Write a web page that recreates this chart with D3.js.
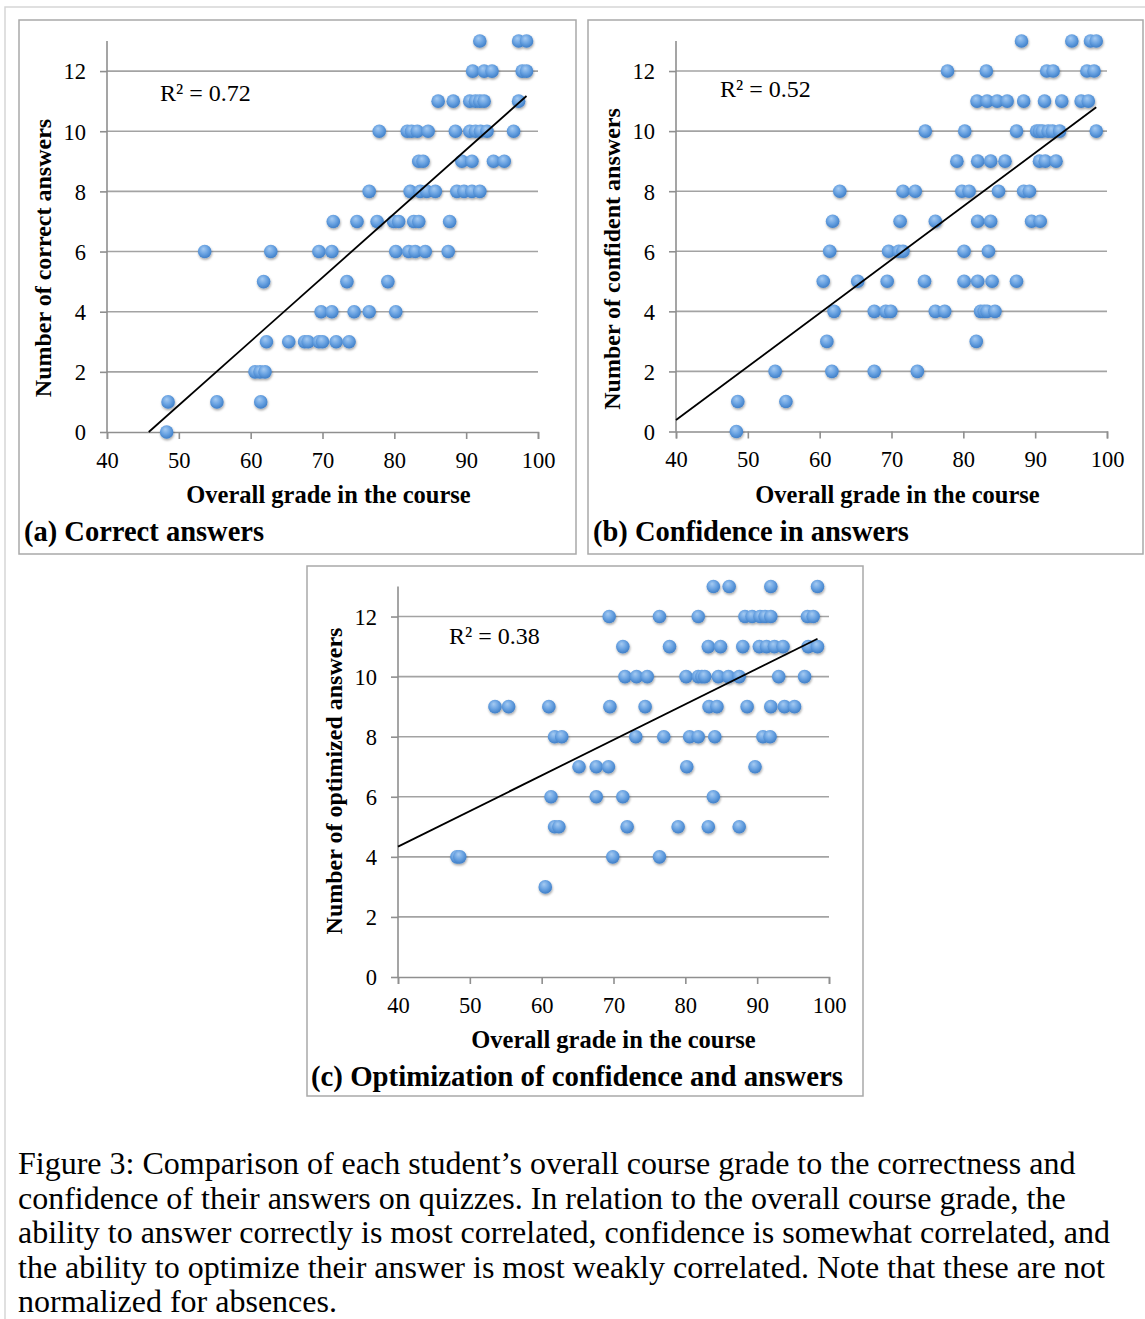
<!DOCTYPE html>
<html><head><meta charset="utf-8">
<script src="https://cdn.jsdelivr.net/npm/d3@7"></script>
<style>
body{margin:0;background:#fff}
svg{display:block}
text{font-family:"Liberation Serif","Times New Roman",serif;fill:#000}
</style>
</head><body>
<svg id="fig" width="1145" height="1319"></svg>
<script>
// ---------- DATA ----------
const xTicks = [40, 50, 60, 70, 80, 90, 100];
const yTicks = [0, 2, 4, 6, 8, 10, 12];
const xDomain = [40, 100];
const yDomain = [0, 13];

// Panel (a): overall grade vs number of correct answers
const gradesA = [
  91.9, 97.3, 98.4,
  90.9, 92.5, 93.6, 97.8, 98.4,
  86.1, 88.2, 90.5, 91.3, 91.9, 92.5, 97.3,
  77.9, 81.8, 82.4, 83.2, 84.7, 88.5, 90.5, 91.3, 92.0, 92.9, 96.6,
  83.4, 84.0, 89.4, 90.8, 93.8, 95.3,
  76.5, 82.2, 83.6, 84.5, 85.7, 88.7, 89.7, 90.8, 91.9,
  71.5, 74.8, 77.6, 79.9, 80.6, 82.7, 83.4, 87.7,
  53.6, 62.8, 69.5, 71.3, 80.2, 82.0, 82.9, 84.3, 87.5,
  61.8, 73.4, 79.1,
  69.8, 71.3, 74.4, 76.5, 80.2,
  62.2, 65.3, 67.5, 68.0, 69.5, 70.0, 71.9, 73.7,
  60.6, 61.3, 62.0,
  48.5, 55.3, 61.4,
  48.3
];
const correctA = [
  13, 13, 13,
  12, 12, 12, 12, 12,
  11, 11, 11, 11, 11, 11, 11,
  10, 10, 10, 10, 10, 10, 10, 10, 10, 10, 10,
  9, 9, 9, 9, 9, 9,
  8, 8, 8, 8, 8, 8, 8, 8, 8,
  7, 7, 7, 7, 7, 7, 7, 7,
  6, 6, 6, 6, 6, 6, 6, 6, 6,
  5, 5, 5,
  4, 4, 4, 4, 4,
  3, 3, 3, 3, 3, 3, 3, 3,
  2, 2, 2,
  1, 1, 1,
  0
];

// Panel (b): overall grade vs number of confident answers
const gradesB = [
  88.1, 95.1, 97.7, 98.5,
  77.8, 83.2, 91.6, 92.5, 97.2, 98.2,
  81.9, 83.3, 84.7, 86.1, 88.4, 91.3, 93.7, 96.4, 97.4,
  74.7, 80.2, 87.4, 90.2, 90.6, 91.0, 91.8, 92.4, 93.4, 98.5,
  79.1, 82.0, 83.8, 85.8, 90.6, 91.4, 92.9,
  62.8, 71.6, 73.3, 79.8, 80.8, 84.9, 88.4, 89.2,
  61.8, 71.2, 76.1, 82.0, 83.8, 89.5, 90.7,
  61.4, 69.6, 71.0, 71.6, 80.1, 83.5,
  60.5, 65.3, 69.4, 74.6, 80.1, 82.0, 84.0, 87.4,
  62.0, 67.6, 69.2, 69.9, 76.1, 77.4, 82.4, 82.9, 83.3, 84.4,
  61.0, 81.8,
  53.8, 61.7, 67.6, 73.6,
  48.6, 55.3,
  48.4
];
const confidentB = [
  13, 13, 13, 13,
  12, 12, 12, 12, 12, 12,
  11, 11, 11, 11, 11, 11, 11, 11, 11,
  10, 10, 10, 10, 10, 10, 10, 10, 10, 10,
  9, 9, 9, 9, 9, 9, 9,
  8, 8, 8, 8, 8, 8, 8, 8,
  7, 7, 7, 7, 7, 7, 7,
  6, 6, 6, 6, 6, 6,
  5, 5, 5, 5, 5, 5, 5, 5,
  4, 4, 4, 4, 4, 4, 4, 4, 4, 4,
  3, 3,
  2, 2, 2, 2,
  1, 1,
  0
];

// Panel (c): overall grade vs number of optimized answers
const gradesC = [
  83.9, 86.1, 91.9, 98.4,
  69.4, 76.4, 81.8, 88.3, 89.3, 90.4, 91.1, 91.9, 97.0, 97.8,
  71.3, 77.8, 83.2, 84.9, 88.0, 90.3, 91.3, 92.4, 93.6, 97.1, 98.4,
  71.6, 73.2, 74.7, 80.1, 81.8, 82.3, 82.7, 84.6, 86.0, 87.5, 93.0, 96.6,
  53.5, 55.4, 61.0, 69.5, 74.4, 83.3, 84.4, 88.6, 91.9, 93.8, 95.2,
  61.8, 62.8, 73.1, 77.0, 80.6, 81.8, 84.1, 90.8, 91.8,
  65.2, 67.6, 69.3, 80.2, 89.7,
  61.3, 67.6, 71.3, 83.9,
  61.8, 62.4, 71.9, 79.0, 83.2, 87.5,
  48.2, 48.6, 69.9, 76.4,
  60.5
];
const optimizedC = [
  13, 13, 13, 13,
  12, 12, 12, 12, 12, 12, 12, 12, 12, 12,
  11, 11, 11, 11, 11, 11, 11, 11, 11, 11, 11,
  10, 10, 10, 10, 10, 10, 10, 10, 10, 10, 10, 10,
  9, 9, 9, 9, 9, 9, 9, 9, 9, 9, 9,
  8, 8, 8, 8, 8, 8, 8, 8, 8,
  7, 7, 7, 7, 7,
  6, 6, 6, 6,
  5, 5, 5, 5, 5, 5,
  4, 4, 4, 4,
  3
];

// Linear trend lines (slope, intercept)
const trendA = [0.2124, -9.73];
const trendB = [0.178, -6.74];
const trendC = [0.1185, -0.40];

const r2Labels = ["R² = 0.72", "R² = 0.52", "R² = 0.38"];
const yTitles = ["Number of correct answers", "Number of confident answers", "Number of optimized answers"];
const xTitle = "Overall grade in the course";
const panelLabels = ["(a) Correct answers", "(b) Confidence in answers", "(c) Optimization of confidence and answers"];
const captionLines = [
  "Figure 3: Comparison of each student’s overall course grade to the correctness and",
  "confidence of their answers on quizzes. In relation to the overall course grade, the",
  "ability to answer correctly is most correlated, confidence is somewhat correlated, and",
  "the ability to optimize their answer is most weakly correlated. Note that these are not",
  "normalized for absences."
];

// ---------- DRAWING ----------
const svg = d3.select("#fig");
const defs = svg.append("defs");
const grad = defs.append("radialGradient").attr("id", "dot")
  .attr("cx", "45%").attr("cy", "40%").attr("r", "60%").attr("fx", "40%").attr("fy", "30%");
grad.append("stop").attr("offset", "0%").attr("stop-color", "#a6cbf2");
grad.append("stop").attr("offset", "55%").attr("stop-color", "#6aa3e2");
grad.append("stop").attr("offset", "100%").attr("stop-color", "#3f7fc8");
const shadow = defs.append("filter").attr("id", "sh").attr("x", "-50%").attr("y", "-50%").attr("width", "200%").attr("height", "200%");
shadow.append("feDropShadow").attr("dx", 0.6).attr("dy", 1.6).attr("stdDeviation", 1.1)
  .attr("flood-color", "#000").attr("flood-opacity", 0.35);

// outer light frame
svg.append("path").attr("d", "M5,1319 L5,7 L1145,7")
  .attr("fill", "none").attr("stroke", "#d6d6d6").attr("stroke-width", 1.5);

// panel boxes
const boxes = [
  {x: 19, y: 20, w: 557, h: 534},
  {x: 588, y: 20, w: 555, h: 534},
  {x: 307, y: 566, w: 556, h: 530}
];
svg.selectAll("rect.box").data(boxes).join("rect").attr("class", "box")
  .attr("x", d => d.x).attr("y", d => d.y).attr("width", d => d.w).attr("height", d => d.h)
  .attr("fill", "none").attr("stroke", "#a9a9a9").attr("stroke-width", 1.5);

const panels = [
  {g: gradesA, v: correctA, t: trendA, L: 107, R: 538, T: 41, B: 432, r2: [160, 101], lab: [24, 541], yc: 258, xc: 6},
  {g: gradesB, v: confidentB, t: trendB, L: 676, R: 1107, T: 41, B: 431.5, r2: [720, 97], lab: [593, 541], yc: 259, xc: 6},
  {g: gradesC, v: optimizedC, t: trendC, L: 398, R: 829, T: 586.5, B: 977, r2: [449, 644], lab: [311, 1086], yc: 781, xc: 0}
];

panels.forEach((p, i) => {
  const x = d3.scaleLinear().domain(xDomain).range([p.L, p.R]);
  const y = d3.scaleLinear().domain(yDomain).range([p.B, p.T]);
  const g = svg.append("g");

  // gridlines
  g.selectAll("line.grid").data(yTicks.filter(d => d > 0)).join("line")
    .attr("x1", p.L).attr("x2", p.R).attr("y1", d => y(d)).attr("y2", d => y(d))
    .attr("stroke", "#a3a3a3").attr("stroke-width", 1.6);

  // y axis
  const ya = g.append("g").attr("transform", `translate(${p.L},0)`)
    .call(d3.axisLeft(y).tickValues(yTicks).tickSize(7).tickPadding(14).tickFormat(d3.format("d")));
  ya.select(".domain").attr("d", `M0,${y(0)}V${y(13)}`);
  // x axis
  const xa = g.append("g").attr("transform", `translate(0,${p.B})`)
    .call(d3.axisBottom(x).tickValues(xTicks).tickSize(7).tickPadding(13).tickFormat(d3.format("d")));
  [ya, xa].forEach(a => {
    a.attr("font-family", null).attr("font-size", null);
    a.select(".domain").attr("stroke", "#8f8f8f").attr("stroke-width", 1.6);
    a.selectAll(".tick line").attr("stroke", "#8f8f8f").attr("stroke-width", 1.6);
    a.selectAll(".tick text").style("font-size", "22.5px").style("font-family", "'Liberation Serif', serif").attr("fill", "#000");
  });
  ya.selectAll(".tick text").attr("dy", "0.35em");

  // trend line range
  const [m, b] = p.t;
  let x0 = xDomain[0];
  if (m * x0 + b < 0) x0 = -b / m;
  const x1 = d3.max(p.g);
  const line = d3.line().x(d => x(d)).y(d => y(m * d + b));

  // points
  const pts = p.g.map((gv, k) => ({gx: gv, gy: p.v[k]}));
  g.append("g").attr("filter", "url(#sh)")
    .selectAll("circle").data(pts).join("circle")
    .attr("cx", d => x(d.gx)).attr("cy", d => y(d.gy)).attr("r", 6.8)
    .attr("fill", "url(#dot)");

  // trend line over the markers
  g.append("path").datum([x0, x1]).attr("d", line)
    .attr("fill", "none").attr("stroke", "#000").attr("stroke-width", 1.8);

  // R² label
  g.append("text").attr("x", p.r2[0]).attr("y", p.r2[1]).style("font-size", "24px").text(r2Labels[i]);

  // axis titles
  g.append("text").attr("x", (p.L + p.R) / 2 + p.xc).attr("y", p.B + 71).attr("text-anchor", "middle")
    .style("font-size", "24.5px").attr("font-weight", "bold").text(xTitle);
  g.append("text").attr("transform", `translate(${p.L - 56},${p.yc}) rotate(-90)`)
    .attr("text-anchor", "middle").style("font-size", "24px").attr("font-weight", "bold").text(yTitles[i]);

  // panel label
  g.append("text").attr("x", p.lab[0]).attr("y", p.lab[1]).style("font-size", i === 2 ? "28.8px" : "28.5px").attr("font-weight", "bold").text(panelLabels[i]);
});

// caption
svg.append("g").selectAll("text").data(captionLines).join("text")
  .attr("x", 18).attr("y", (d, k) => 1174 + k * 34.5).style("font-size", "32px").text(d => d);
</script>
</body></html>
